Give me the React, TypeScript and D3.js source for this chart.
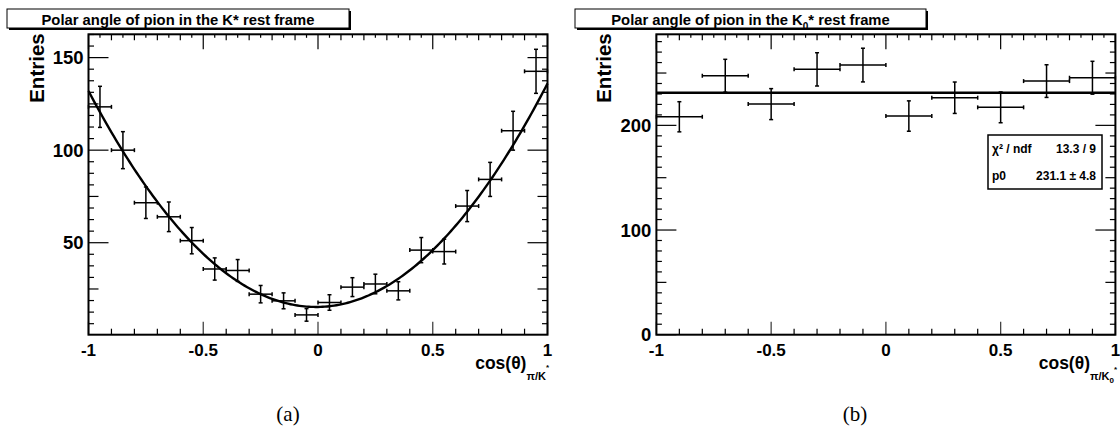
import React from "react";
import * as d3 from "d3";

const W = 1120;
const H = 432;
const FONT = "'Liberation Sans', Arial, Helvetica, sans-serif";

// ---- Panel (a): K* rest frame, 20 bins of width 0.1 ----
const leftBinCenters = [-0.95, -0.85, -0.75, -0.65, -0.55, -0.45, -0.35, -0.25, -0.15, -0.05, 0.05, 0.15, 0.25, 0.35, 0.45, 0.55, 0.65, 0.75, 0.85, 0.95];
const leftValues = [123.4, 100, 71.6, 64, 51.1, 35.8, 35, 22.2, 18.6, 11, 17.7, 26, 27.7, 24, 46, 45.2, 69.8, 84.2, 110.5, 142.6];
const leftErrors = [11.1, 10, 8.5, 8, 7.1, 6, 5.9, 4.7, 4.3, 3.4, 4.2, 5.1, 5.3, 4.9, 6.8, 6.7, 8.4, 9.2, 10.5, 11.9];
const leftBinWidth = 0.1;
// fitted parabola p0 + p1*x + p2*x^2
const leftFitCoeffs = [15.3, 2.0, 118.7];
const leftYTicks = [50, 100, 150];

// ---- Panel (b): K0* rest frame, 10 bins of width 0.2 ----
const rightBinCenters = [-0.9, -0.7, -0.5, -0.3, -0.1, 0.1, 0.3, 0.5, 0.7, 0.9];
const rightValues = [208.2, 247.4, 220.3, 253.5, 257.6, 208.9, 226.4, 217.2, 242.3, 245.5];
const rightErrors = [14.4, 15.7, 14.8, 15.9, 16.1, 14.5, 15, 14.7, 15.6, 15.7];
const rightBinWidth = 0.2;
const rightFitConst = 231.1;
const rightYTicks = [0, 100, 200];

const xTickLabels = [-1, -0.5, 0, 0.5, 1];
const statsRows = [
  ["χ² / ndf", "13.3 / 9"],
  ["p0", "231.1 ± 4.8"],
];

type PanelProps = {
  x0: number; x1: number; y0: number; y1: number;
  yDomain: [number, number];
  yMajor: number; yMinorStep: number; yTicks: number[];
  centers: number[]; values: number[]; errors: number[]; binWidth: number;
  fit: (x: number) => number;
  titleBox: [number, number];
  title: React.ReactNode;
  xTitle: React.ReactNode;
  caption: string;
  captionX: number;
  children?: React.ReactNode;
};

function fmt(v: number) {
  if (v === 0) return "0";
  return String(v);
}

function Panel(p: PanelProps) {
  const x = d3.scaleLinear().domain([-1, 1]).range([p.x0, p.x1]);
  const y = d3.scaleLinear().domain(p.yDomain).range([p.y1, p.y0]);

  // bottom ticks every 0.1, top every 0.05
  const bottomTicks = d3.range(-10, 11).map((i) => i / 10);
  const topTicks = d3.range(-20, 21).map((i) => i / 20);
  const yMinor = d3
    .range(0, p.yDomain[1] + 1e-6, p.yMinorStep)
    .filter((v) => v >= p.yDomain[0] - 1e-6 && v <= p.yDomain[1]);

  const isMult = (v: number, m: number) => Math.abs(v / m - Math.round(v / m)) < 1e-6;

  const fitLine = d3
    .line<number>()
    .x((d) => x(d))
    .y((d) => y(p.fit(d)))
    .curve(d3.curveLinear);
  const fitXs = d3.range(0, 201).map((i) => -1 + i / 100);

  const cap = 2;
  const tb0 = p.titleBox[0];
  const tb1 = p.titleBox[1];

  return (
    <g>
      {/* title box with shadow */}
      <rect x={tb0 + 2} y={11} width={tb1 - tb0} height={19} fill="#000" />
      <rect x={tb0} y={9} width={tb1 - tb0} height={19} fill="#fff" stroke="#000" strokeWidth={1} />
      <text x={(tb0 + tb1) / 2} y={24.5} textAnchor="middle" fontFamily={FONT} fontWeight="bold" fontSize={14.8}>
        {p.title}
      </text>

      {/* y axis title */}
      <text
        transform={`translate(${p.x0 - 45},${p.y0 - 1}) rotate(-90)`}
        textAnchor="end"
        fontFamily={FONT}
        fontWeight="bold"
        fontSize={20.5}
      >
        Entries
      </text>

      {/* fit */}
      <path d={fitLine(fitXs) || ""} fill="none" stroke="#000" strokeWidth={2.4} />

      {/* data with error bars */}
      {p.centers.map((c, i) => {
        const cx = x(c);
        const xl = x(c - p.binWidth / 2);
        const xr = x(c + p.binWidth / 2);
        const cy = y(p.values[i]);
        const yt = y(p.values[i] + p.errors[i]);
        const yb = y(p.values[i] - p.errors[i]);
        return (
          <g key={i} stroke="#000" strokeWidth={1.5}>
            <line x1={xl} x2={xr} y1={cy} y2={cy} />
            <line x1={cx} x2={cx} y1={yt} y2={yb} />
            <line x1={xl} x2={xl} y1={cy - cap} y2={cy + cap} />
            <line x1={xr} x2={xr} y1={cy - cap} y2={cy + cap} />
            <line x1={cx - cap} x2={cx + cap} y1={yt} y2={yt} />
            <line x1={cx - cap} x2={cx + cap} y1={yb} y2={yb} />
          </g>
        );
      })}

      {/* bottom ticks */}
      {bottomTicks.map((t, i) => {
        const major = isMult(t, 0.5);
        const len = major ? 13 : 6;
        return <line key={"b" + i} x1={x(t)} x2={x(t)} y1={p.y1} y2={p.y1 - len} stroke={major ? "#444" : "#000"} strokeWidth={major ? 1.3 : 1.2} />;
      })}
      {/* top ticks */}
      {topTicks.map((t, i) => {
        const major = isMult(t, 0.5);
        const mid = isMult(t, 0.1);
        const len = major ? 15 : mid ? 6 : 3.5;
        return <line key={"t" + i} x1={x(t)} x2={x(t)} y1={p.y0} y2={p.y0 + len} stroke="#000" strokeWidth={1.2} />;
      })}
      {/* y ticks left & right */}
      {yMinor.map((v, i) => {
        const major = isMult(v, p.yMajor);
        const medium = !major && isMult(v, p.yMajor / 2);
        const len = major ? 20 : medium ? 10 : 5.5;
        return (
          <g key={"y" + i} stroke="#000" strokeWidth={1.2}>
            <line x1={p.x0} x2={p.x0 + len} y1={y(v)} y2={y(v)} />
            <line x1={p.x1} x2={p.x1 - len} y1={y(v)} y2={y(v)} />
          </g>
        );
      })}

      {/* frame */}
      <rect x={p.x0} y={p.y0} width={p.x1 - p.x0} height={p.y1 - p.y0} fill="none" stroke="#000" strokeWidth={2} />

      {/* y tick labels */}
      {p.yTicks.map((v) => (
        <text key={"yl" + v} x={p.x0 - 5} y={y(v) + 6.5} textAnchor="end" fontFamily={FONT} fontWeight="bold" fontSize={18.5}>
          {fmt(v)}
        </text>
      ))}
      {/* x tick labels */}
      {xTickLabels.map((v) => (
        <text key={"xl" + v} x={x(v)} y={p.y1 + 21.5} textAnchor="middle" fontFamily={FONT} fontWeight="bold" fontSize={17}>
          {fmt(v)}
        </text>
      ))}

      {/* x axis title */}
      {p.xTitle}

      {/* caption */}
      <text x={p.captionX} y={421} textAnchor="middle" fontFamily="'Liberation Serif', 'DejaVu Serif', serif" fontSize={21}>
        {p.caption}
      </text>
      {p.children}
    </g>
  );
}

export default function App() {
  const leftFit = (v: number) => leftFitCoeffs[0] + leftFitCoeffs[1] * v + leftFitCoeffs[2] * v * v;
  const rightFit = (_v: number) => rightFitConst;

  const sx0 = 988, sx1 = 1102, sy0 = 135, sy1 = 189;

  return (
    <svg width={W} height={H} style={{ position: "absolute", left: 0, top: 0, background: "#fff" }}>
      <rect x={0} y={0} width={W} height={H} fill="#fff" />
      <Panel
        x0={88.5} x1={547.5} y0={34.3} y1={334.7}
        yDomain={[0.3, 162.6]}
        yMajor={50} yMinorStep={6.25} yTicks={leftYTicks}
        centers={leftBinCenters} values={leftValues} errors={leftErrors} binWidth={leftBinWidth}
        fit={leftFit}
        titleBox={[7, 349]}
        title={<>Polar angle of pion in the K* rest frame</>}
        xTitle={
          <text x={549} y={369} textAnchor="end" fontFamily={FONT} fontWeight="bold" fontSize={17.5}>
            cos(θ)
            <tspan fontSize={11} dy={11}>π/K</tspan>
            <tspan fontSize={8} dy={-10}>*</tspan>
          </text>
        }
        caption="(a)"
        captionX={288}
      />
      <Panel
        x0={656.4} x1={1115.4} y0={34.3} y1={334.7}
        yDomain={[0, 287]}
        yMajor={100} yMinorStep={10} yTicks={rightYTicks}
        centers={rightBinCenters} values={rightValues} errors={rightErrors} binWidth={rightBinWidth}
        fit={rightFit}
        titleBox={[575, 926]}
        title={
          <>
            Polar angle of pion in the K
            <tspan fontSize={10} dy={5}>0</tspan>
            <tspan dy={-5}>* rest frame</tspan>
          </>
        }
        xTitle={
          <text x={1117} y={369} textAnchor="end" fontFamily={FONT} fontWeight="bold" fontSize={17.5}>
            cos(θ)
            <tspan fontSize={11} dy={11}>π/K</tspan>
            <tspan fontSize={8} dy={3}>0</tspan>
            <tspan fontSize={8} dy={-11}>*</tspan>
          </text>
        }
        caption="(b)"
        captionX={855}
      >
        <rect x={sx0} y={sy0} width={sx1 - sx0} height={sy1 - sy0} fill="#fff" stroke="#000" strokeWidth={1.5} />
        {statsRows.map((r, i) => (
          <g key={i} fontFamily={FONT} fontWeight="bold" fontSize={12}>
            <text x={sx0 + 4} y={sy0 + 18 + i * 26.5}>{r[0]}</text>
            <text x={sx1 - 6} y={sy0 + 18 + i * 26.5} textAnchor="end">{r[1]}</text>
          </g>
        ))}
      </Panel>
    </svg>
  );
}
